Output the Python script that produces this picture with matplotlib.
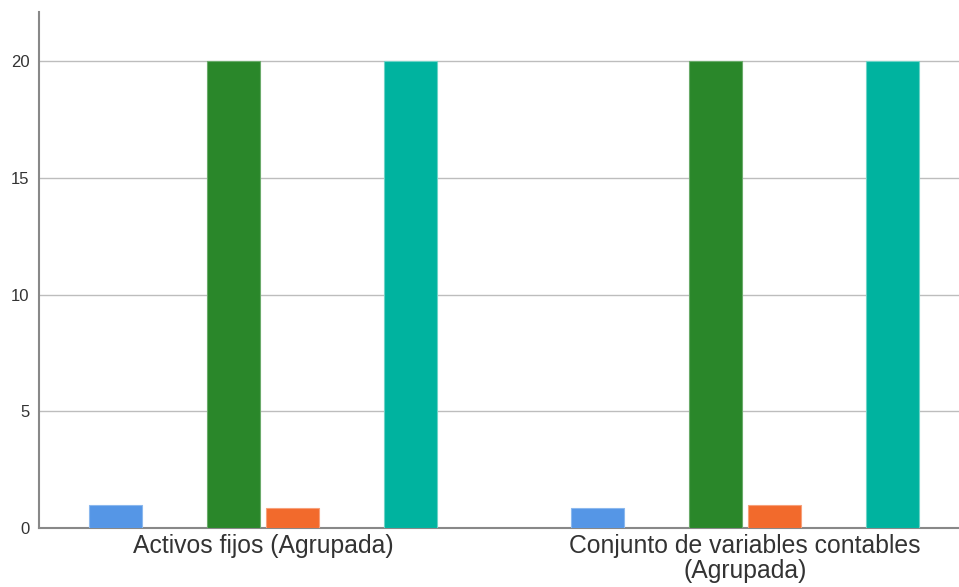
import numpy as np
import matplotlib
matplotlib.use("Agg")
import matplotlib.pyplot as plt

# Data
categories = ["Activos fijos (Agrupada)", "Conjunto de variables contables\n(Agrupada)"]
series_names = ["s1", "s2", "s3", "s4", "s5", "s6"]
series_values = [
    [1.0, 0.87],   # blue
    [0.0, 0.0],    # empty slot
    [20.0, 20.0],  # green
    [0.87, 1.0],   # orange
    [0.0, 0.0],    # empty slot
    [20.0, 20.0],  # teal
]
series_colors = ["#5596e6", "#ffffff", "#2a872a", "#f26a2c", "#ffffff", "#00b39f"]
edge_colors = ["#8bb8ee", "#ffffff", "#6aab6a", "#f7a07a", "#ffffff", "#6dd3c6"]
yticks = [0, 5, 10, 15, 20]

plt.rcParams['font.family'] = ['Liberation Sans', 'DejaVu Sans']

fig = plt.figure(figsize=(9.59, 5.87), dpi=100)
ax = fig.add_axes([39 / 959, 59 / 587, 920 / 959, 516 / 587])

x = np.arange(len(categories))
slot = 0.1224
width = 0.11
n = len(series_values)
for i, vals in enumerate(series_values):
    if max(vals) == 0:
        continue
    offset = (i - (n - 1) / 2) * slot
    ax.bar(x + offset, vals, width=width, color=series_colors[i],
           edgecolor=edge_colors[i], linewidth=0.8, zorder=3)

ax.set_xlim(-0.465, 1.444)
ax.set_ylim(0, 22.1)
ax.set_yticks(yticks)
ax.set_yticklabels([str(t) for t in yticks], fontsize=12, color='#333333')
ax.set_xticks(x)
ax.set_xticklabels(categories, fontsize=17.8, color='#333333', linespacing=1.05)
ax.tick_params(axis='y', length=0, pad=7)
ax.tick_params(axis='x', length=0, pad=4)

ax.grid(axis='y', color='#bdbdbd', linewidth=1, zorder=0)
ax.set_axisbelow(True)
for side in ['top', 'right']:
    ax.spines[side].set_visible(False)
for side in ['left', 'bottom']:
    ax.spines[side].set_color('#888888')
    ax.spines[side].set_linewidth(1.5)

fig.savefig("out.png", dpi=100)
